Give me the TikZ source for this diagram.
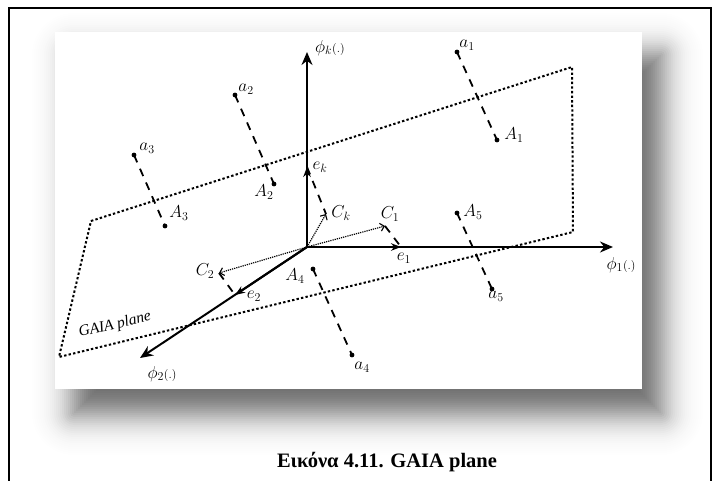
\documentclass[tikz,border=0pt]{standalone}
\usepackage{fontspec}
\setmainfont{Liberation Serif}
\usetikzlibrary{arrows.meta}
\begin{document}
\begin{tikzpicture}[x=1pt,y=-1pt,
  lbl/.style={font=\fontsize{17}{19}\selectfont, inner sep=0pt},
  axisarrow/.style={line width=2pt, -{Stealth[length=13pt,width=11pt]}},
  evec/.style={line width=2pt, -{Stealth[length=10pt,width=7.5pt]}},
  cvec/.style={line width=1.2pt, dash pattern=on 1.2pt off 1pt, -{Straight Barb[length=4pt,width=8pt,line width=1.1pt]}},
  proj/.style={line width=1.8pt, dash pattern=on 8pt off 7pt},
  planeline/.style={line width=2pt, dash pattern=on 2.4pt off 2.2pt}]
\useasboundingbox (0,0) rectangle (720,481);
% blurred drop shadow (stacked translucent layers, logistic profile)
\foreach \r in {50,48,...,-50}{
  \pgfmathsetmacro\ca{0.6/(1+exp(1.702*(\r-2)/17))}
  \pgfmathsetmacro\cb{0.6/(1+exp(1.702*\r/17))}
  \pgfmathsetmacro\op{1-(1-\ca)/(1-\cb)}
  \pgfmathsetmacro\rc{max(\r,0.1)}
  \fill[black, opacity=\op, rounded corners=\rc pt] (74-\r,55-\r) rectangle (661+\r,413+\r);
}
\fill[white] (55,32) rectangle (642,389);
% frame
\draw[line width=1.6pt] (9,481) -- (9,8) -- (711,8) -- (711,481);
% caption
\node[font=\bfseries\fontsize{20.5}{24}\selectfont, anchor=base, inner sep=0pt] (cap) at (387,467) {Εικόνα 4.11. GAIA plane};
% points
\coordinate (O) at (307,247);
\coordinate (phik) at (307,52);
\coordinate (phi1) at (613,247);
\coordinate (phi2) at (140,358);
\coordinate (ek) at (307,167);
\coordinate (e1) at (401,247);
\coordinate (e2) at (235,295);
\coordinate (ck) at (326,214);
\coordinate (c1) at (385,226);
\coordinate (c2) at (219,273);
\coordinate (P1) at (91,221);
\coordinate (P2) at (572,67);
\coordinate (P3) at (573,232);
\coordinate (P4) at (59,357);
\coordinate (a1) at (457,52);
\coordinate (A1) at (497,140);
\coordinate (a2) at (235,95);
\coordinate (A2) at (274,184);
\coordinate (a3) at (134,155);
\coordinate (A3) at (165,226);
\coordinate (A4) at (313,269);
\coordinate (a4) at (352,355);
\coordinate (A5) at (457,213);
\coordinate (a5) at (492,289);
% plane
\draw[planeline] (P1) -- (P2) -- (P3) -- (P4) -- cycle;
\node[font=\itshape\fontsize{15.5}{17}\selectfont, rotate=13, inner sep=0pt] (gaia) at (115,325) {GAIA plane};
% projection dashes
\draw[proj] (a1) -- (A1);
\draw[proj] (a2) -- (A2);
\draw[proj] (a3) -- (A3);
\draw[proj] (A4) -- (a4);
\draw[proj] (A5) -- (a5);
\draw[proj] (ek) -- (ck);
\draw[proj] (c1) -- (e1);
\draw[proj] (c2) -- (e2);
% axes
\draw[axisarrow] (O) -- (phik);
\draw[axisarrow] (O) -- (phi1);
\draw[axisarrow] (O) -- (phi2);
\draw[evec] (O) -- (ek);
\draw[evec] (O) -- (e1);
\draw[evec] (O) -- (e2);
\draw[cvec] (O) -- (ck);
\draw[cvec] (O) -- (c1);
\draw[cvec] (O) -- (c2);
% dots
\foreach \p in {a1,A1,a2,A2,a3,A3,A4,a4,A5,a5}{\fill (\p) circle (2.4pt);}
% labels
\node[lbl, anchor=west] (lphik) at (315,48) {$\phi_k{\scriptstyle(.)}$};
\node[lbl] (lphi1) at (621,265) {$\phi_1{\scriptstyle(.)}$};
\node[lbl] (lphi2) at (162,374) {$\phi_2{\scriptstyle(.)}$};
\node[lbl] (la1) at (467,45) {$a_1$};
\node[lbl] (lA1) at (514,135) {$A_1$};
\node[lbl] (la2) at (246,89) {$a_2$};
\node[lbl] (lA2) at (264,192) {$A_2$};
\node[lbl] (la3) at (147,148) {$a_3$};
\node[lbl] (lA3) at (179,213) {$A_3$};
\node[lbl] (lA4) at (295,276) {$A_4$};
\node[lbl] (la4) at (362,367) {$a_4$};
\node[lbl] (lA5) at (473,212) {$A_5$};
\node[lbl] (la5) at (496,296) {$a_5$};
\node[lbl] (lek) at (320,167) {$e_k$};
\node[lbl] (lck) at (341,213) {$C_k$};
\node[lbl] (lc1) at (390,214) {$C_1$};
\node[lbl] (le1) at (404,258) {$e_1$};
\node[lbl] (lc2) at (205,271) {$C_2$};
\node[lbl] (le2) at (254,296) {$e_2$};
\end{tikzpicture}
\end{document}
